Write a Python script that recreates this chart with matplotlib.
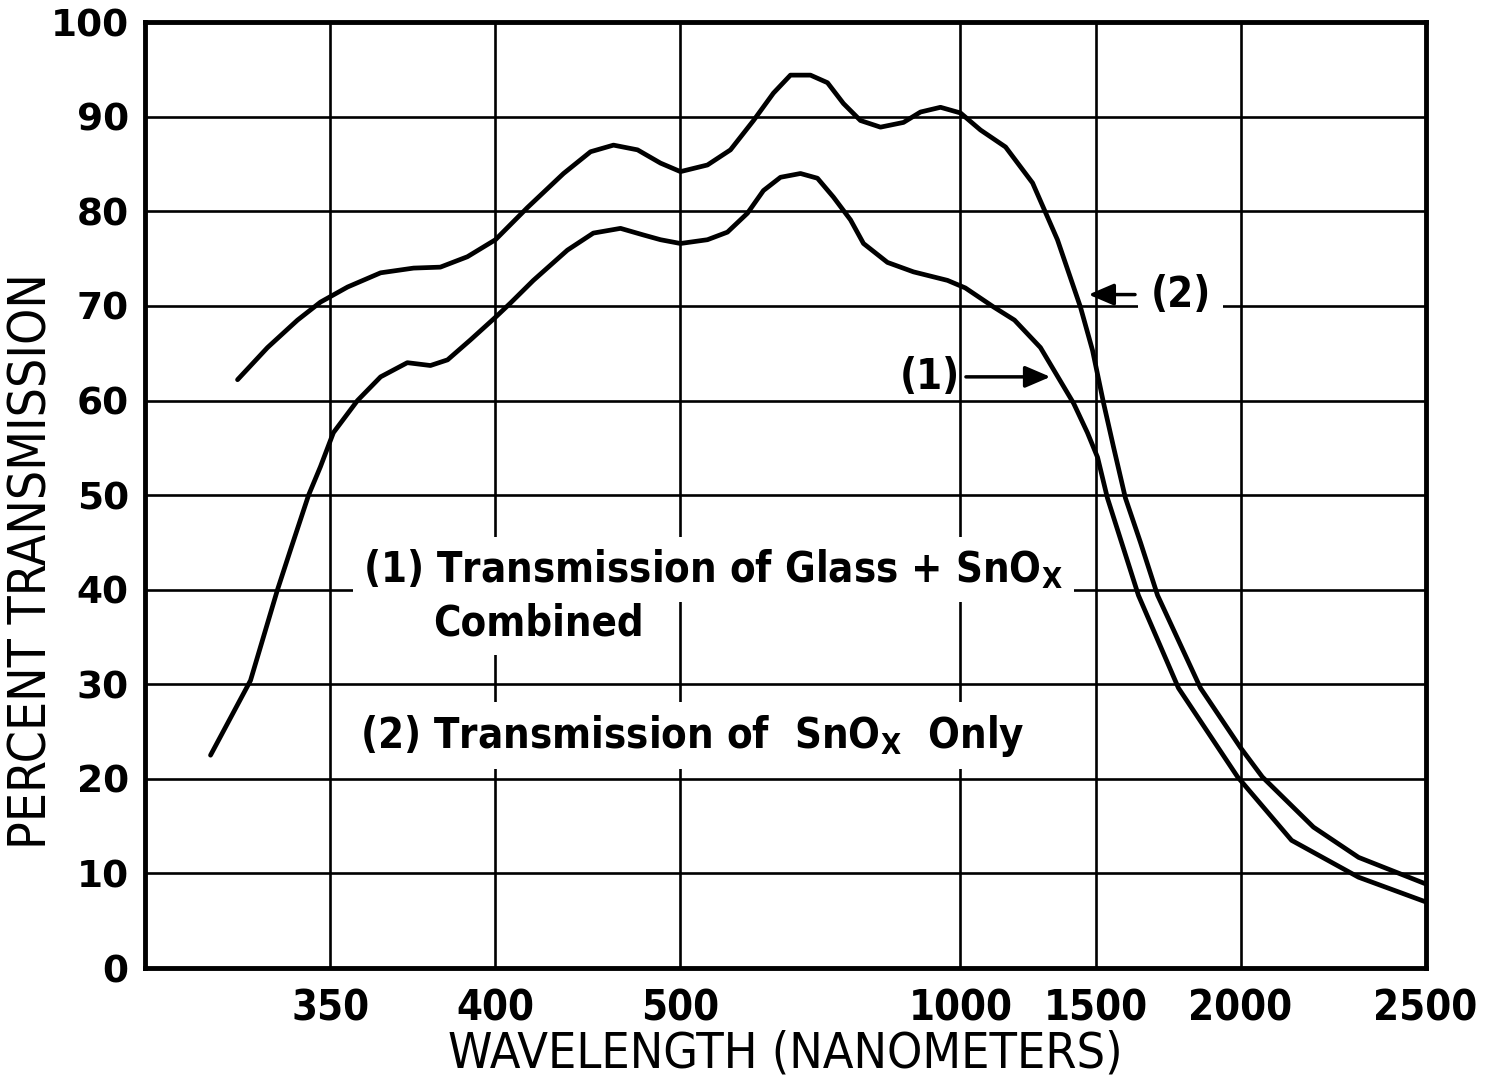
import numpy as np
import matplotlib
matplotlib.use("Agg")
import matplotlib.pyplot as plt

# values: wavelength (nm) vs percent transmission
# curve (1): glass + SnOx combined
wl_combined = [317.6, 328.4, 335.7, 339.2, 344.1, 347.3, 350.9, 358.2, 365.2, 373.3,
               380.3, 385.5, 392.4, 400.0, 408.1, 420.5, 438.9, 452.9, 467.6, 480.0,
               489.2, 500.0, 548.2, 583.9, 619.6, 648.2, 678.6, 714.3, 744.6, 773.2,
               803.6, 826.8, 869.6, 916.1, 976.8, 1018, 1122, 1200, 1296, 1419,
               1470, 1507, 1541, 1648, 1786, 1990, 2138, 2319, 2500]
t_combined = [22.5, 30.4, 40.0, 44.2, 50.0, 53.0, 56.6, 60.0, 62.5, 64.0,
              63.7, 64.3, 66.4, 68.8, 70.3, 72.7, 75.9, 77.7, 78.2, 77.5,
              77.0, 76.6, 77.0, 77.8, 79.8, 82.2, 83.6, 84.0, 83.5, 81.5,
              79.1, 76.6, 74.6, 73.6, 72.7, 71.9, 69.9, 68.5, 65.6, 59.7,
              56.6, 54.0, 49.7, 39.4, 29.6, 20.2, 13.5, 9.6, 7.0]

# curve (2): SnOx only
wl_sno = [324.9, 333.0, 341.1, 347.3, 355.2, 365.2, 375.2, 383.3, 391.5, 400.0,
          417.3, 436.8, 451.4, 463.8, 476.8, 489.2, 500.0, 548.2, 589.3, 630.4,
          666.0, 696.4, 732.1, 762.5, 791.0, 821.4, 857.1, 898.2, 928.6, 964.3,
          1000, 1074, 1167, 1267, 1359, 1444, 1489, 1528, 1562, 1603,
          1655, 1714, 1862, 2000, 2059, 2197, 2319, 2500]
t_sno = [62.2, 65.6, 68.5, 70.4, 72.0, 73.5, 74.0, 74.1, 75.2, 77.0,
         80.4, 84.0, 86.3, 87.0, 86.5, 85.1, 84.2, 84.9, 86.5, 89.6,
         92.5, 94.4, 94.4, 93.6, 91.4, 89.6, 88.9, 89.4, 90.5, 91.0,
         90.4, 88.6, 86.8, 83.0, 77.0, 69.9, 65.3, 59.7, 55.1, 49.7,
         45.0, 39.4, 29.6, 23.3, 20.2, 14.9, 11.7, 8.9]

x_ticks = [350, 400, 500, 1000, 1500, 2000, 2500]
y_ticks = list(range(0, 101, 10))

# the printed wavelength axis is neither linear nor log -> piecewise spacing
_anchor_wl = np.array([300, 350, 400, 500, 1000, 1500, 2000, 2500], float)
_anchor_pos = np.array([0, 185, 350, 535, 815, 950, 1095, 1280], float)


def fwd(x):
    return np.interp(x, _anchor_wl, _anchor_pos)


def inv(p):
    return np.interp(p, _anchor_pos, _anchor_wl)


fig = plt.figure(figsize=(14.99, 10.81), dpi=100)
ax = fig.add_axes([0.097, 0.1045, 0.854, 0.875])
ax.set_xscale('function', functions=(fwd, inv))
ax.set_xlim(300, 2500)
ax.set_ylim(0, 100)

ax.plot(wl_combined, t_combined, color='k', lw=3.4, solid_capstyle='round',
        solid_joinstyle='round', zorder=4)
ax.plot(wl_sno, t_sno, color='k', lw=3.4, solid_capstyle='round',
        solid_joinstyle='round', zorder=4)

ax.set_xticks(x_ticks)
ax.set_xticklabels([str(v) for v in x_ticks])
ax.set_yticks(y_ticks)
ax.minorticks_off()
ax.grid(True, color='k', lw=1.9)
ax.set_axisbelow(True)
ax.tick_params(length=0)
ax.tick_params(axis='x', pad=14)
ax.tick_params(axis='y', pad=12)
for lab in ax.get_xticklabels():
    lab.set_family('DejaVu Sans')
    lab.set_stretch('condensed')
    lab.set_fontweight('bold')
    lab.set_fontsize(30)
for lab in ax.get_yticklabels():
    lab.set_family('DejaVu Sans')
    lab.set_fontweight('bold')
    lab.set_fontsize(27)

for s in ax.spines.values():
    s.set_linewidth(3.5)

ax.set_xlabel('WAVELENGTH (NANOMETERS)', family='DejaVu Sans', stretch='condensed',
              fontsize=36, labelpad=0)
ax.set_ylabel('PERCENT TRANSMISSION', family='DejaVu Sans', stretch='condensed',
              fontsize=37)
ax.yaxis.set_label_coords(-0.069, 0.43)

# key text, white boxes break the grid like the original
box = dict(boxstyle='square,pad=0.25', fc='white', ec='none')
txt = dict(family='DejaVu Sans', stretch='condensed', fontweight='bold', fontsize=30,
           color='k', zorder=5)
ax.text(360, 40.8, r'(1) Transmission of Glass + SnO$_{\mathregular{X}}$',
        va='baseline', bbox=box, **txt)
ax.text(381, 35.2, 'Combined', va='baseline', bbox=box, **txt)
ax.text(359, 23.3, r'(2) Transmission of  SnO$_{\mathregular{X}}$  Only',
        va='baseline', bbox=box, **txt)

arrow = dict(arrowstyle='-|>,head_length=0.7,head_width=0.3', color='k', lw=2.5,
             shrinkA=2, shrinkB=0, mutation_scale=22)
ax.annotate('(2)', xy=(1474, 71.2), xytext=(1793, 71.2), ha='center', va='center',
            arrowprops=arrow, bbox=dict(boxstyle='square,pad=0.3', fc='white', ec='none'),
            **txt)
ax.annotate('(1)', xy=(1333, 62.5), xytext=(946, 62.5), ha='center', va='center',
            arrowprops=arrow, **txt)

fig.savefig('out.png', dpi=100)
